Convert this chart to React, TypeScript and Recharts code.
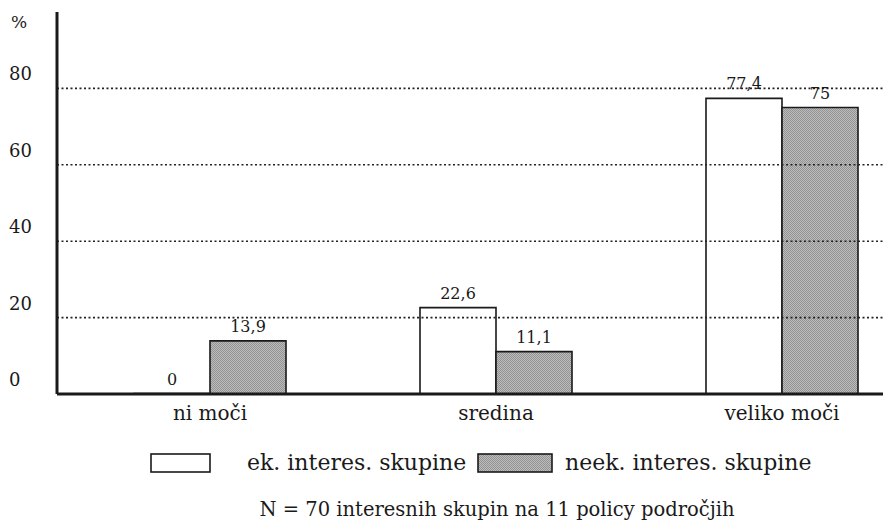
import { Bar, BarChart, LabelList, Legend, ReferenceLine, XAxis, YAxis } from "recharts";

const categories = ["ni moči", "sredina", "veliko moči"];
const ekValues = [0, 22.6, 77.4];
const neekValues = [13.9, 11.1, 75];
const yTicks = [0, 20, 40, 60, 80, 100];
const gridValues = [20, 40, 60, 80];
const seriesNames = ["ek. interes. skupine", "neek. interes. skupine"];
const footnote = "N = 70 interesnih skupin na 11 policy področjih";

const data = categories.map((name, i) => ({ name, ek: ekValues[i], neek: neekValues[i] }));

const FONT = "'DejaVu Serif', 'Liberation Serif', serif";
const INK = "#1a1a1a";

function YTick({ y, payload }: any) {
  if (payload.value === 100) {
    return (
      <text x={3} y={y + 16} fontFamily={FONT} fontSize={17} fill={INK}>
        %
      </text>
    );
  }
  return (
    <text x={1} y={y - 8} fontFamily={FONT} fontSize={18} fill={INK}>
      {payload.value}
    </text>
  );
}

function XTick({ x, y, payload }: any) {
  return (
    <text x={x} y={y + 18} textAnchor="middle" fontFamily={FONT} fontSize={20} fill={INK}>
      {payload.value}
    </text>
  );
}

function Swatch({ w, fill }: { w: number; fill: string }) {
  return (
    <svg width={w} height={20} style={{ display: "block" }}>
      <rect x={1} y={1} width={w - 2} height={18} fill={fill} stroke={INK} strokeWidth={1.6} />
    </svg>
  );
}

function LegendBox() {
  return (
    <div style={{ position: "relative", width: 917, height: 24, fontFamily: FONT, fontSize: 22, color: INK }}>
      <div style={{ position: "absolute", left: 142, top: 0 }}>
        <Swatch w={61} fill="#ffffff" />
      </div>
      <div style={{ position: "absolute", left: 239, top: -3, whiteSpace: "nowrap" }}>{seriesNames[0]}</div>
      <div style={{ position: "absolute", left: 469, top: 0 }}>
        <Swatch w={76} fill="url(#halftone)" />
      </div>
      <div style={{ position: "absolute", left: 557, top: -3, whiteSpace: "nowrap" }}>{seriesNames[1]}</div>
    </div>
  );
}

const fmt = (v: any) => String(v).replace(".", ",");

export default function App() {
  return (
    <div style={{ position: "relative", width: 883, height: 517, overflow: "hidden", background: "#fff" }}>
      <BarChart
        width={917}
        height={517}
        data={data}
        margin={{ top: 4, right: 0, left: 0, bottom: 91 }}
        barSize={76}
        barGap={0}
      >
        <defs>
          <pattern id="halftone" width="2" height="2" patternUnits="userSpaceOnUse">
            <rect width="2" height="2" fill="#bcbcbc" />
            <rect x="0" y="0" width="1" height="1" fill="#939393" />
            <rect x="1" y="1" width="1" height="1" fill="#939393" />
          </pattern>
        </defs>
        <XAxis
          dataKey="name"
          height={40}
          padding={{ left: 10, right: 0 }}
          tickLine={false}
          axisLine={{ stroke: INK, strokeWidth: 3 }}
          tick={<XTick />}
        />
        <YAxis
          width={49}
          domain={[0, 100]}
          ticks={yTicks}
          interval={0}
          tickLine={false}
          axisLine={{ stroke: INK, strokeWidth: 3 }}
          tick={<YTick />}
        />
        {gridValues.map((v) => (
          <ReferenceLine key={v} y={v} stroke="#222" strokeWidth={1.6} strokeDasharray="2 2.5" />
        ))}
        <Bar
          dataKey="ek"
          name={seriesNames[0]}
          fill="#ffffff"
          stroke={INK}
          strokeWidth={1.6}
          minPointSize={0.5}
          isAnimationActive={false}
        >
          <LabelList dataKey="ek" position="top" offset={9} formatter={fmt} fontFamily={FONT} fontSize={16} fill={INK} />
        </Bar>
        <Bar dataKey="neek" name={seriesNames[1]} fill="url(#halftone)" stroke={INK} strokeWidth={1.6} isAnimationActive={false}>
          <LabelList dataKey="neek" position="top" offset={9} formatter={fmt} fontFamily={FONT} fontSize={16} fill={INK} />
        </Bar>
        <Legend
          layout="horizontal"
          verticalAlign="middle"
          align="center"
          content={<LegendBox />}
          wrapperStyle={{ top: 445, left: 0, width: 917 }}
        />
      </BarChart>
      <div
        style={{
          position: "absolute",
          left: 0,
          width: 978,
          top: 490,
          textAlign: "center",
          fontFamily: FONT,
          fontSize: 19.5,
          color: INK,
          whiteSpace: "nowrap",
        }}
      >
        {footnote}
      </div>
    </div>
  );
}
